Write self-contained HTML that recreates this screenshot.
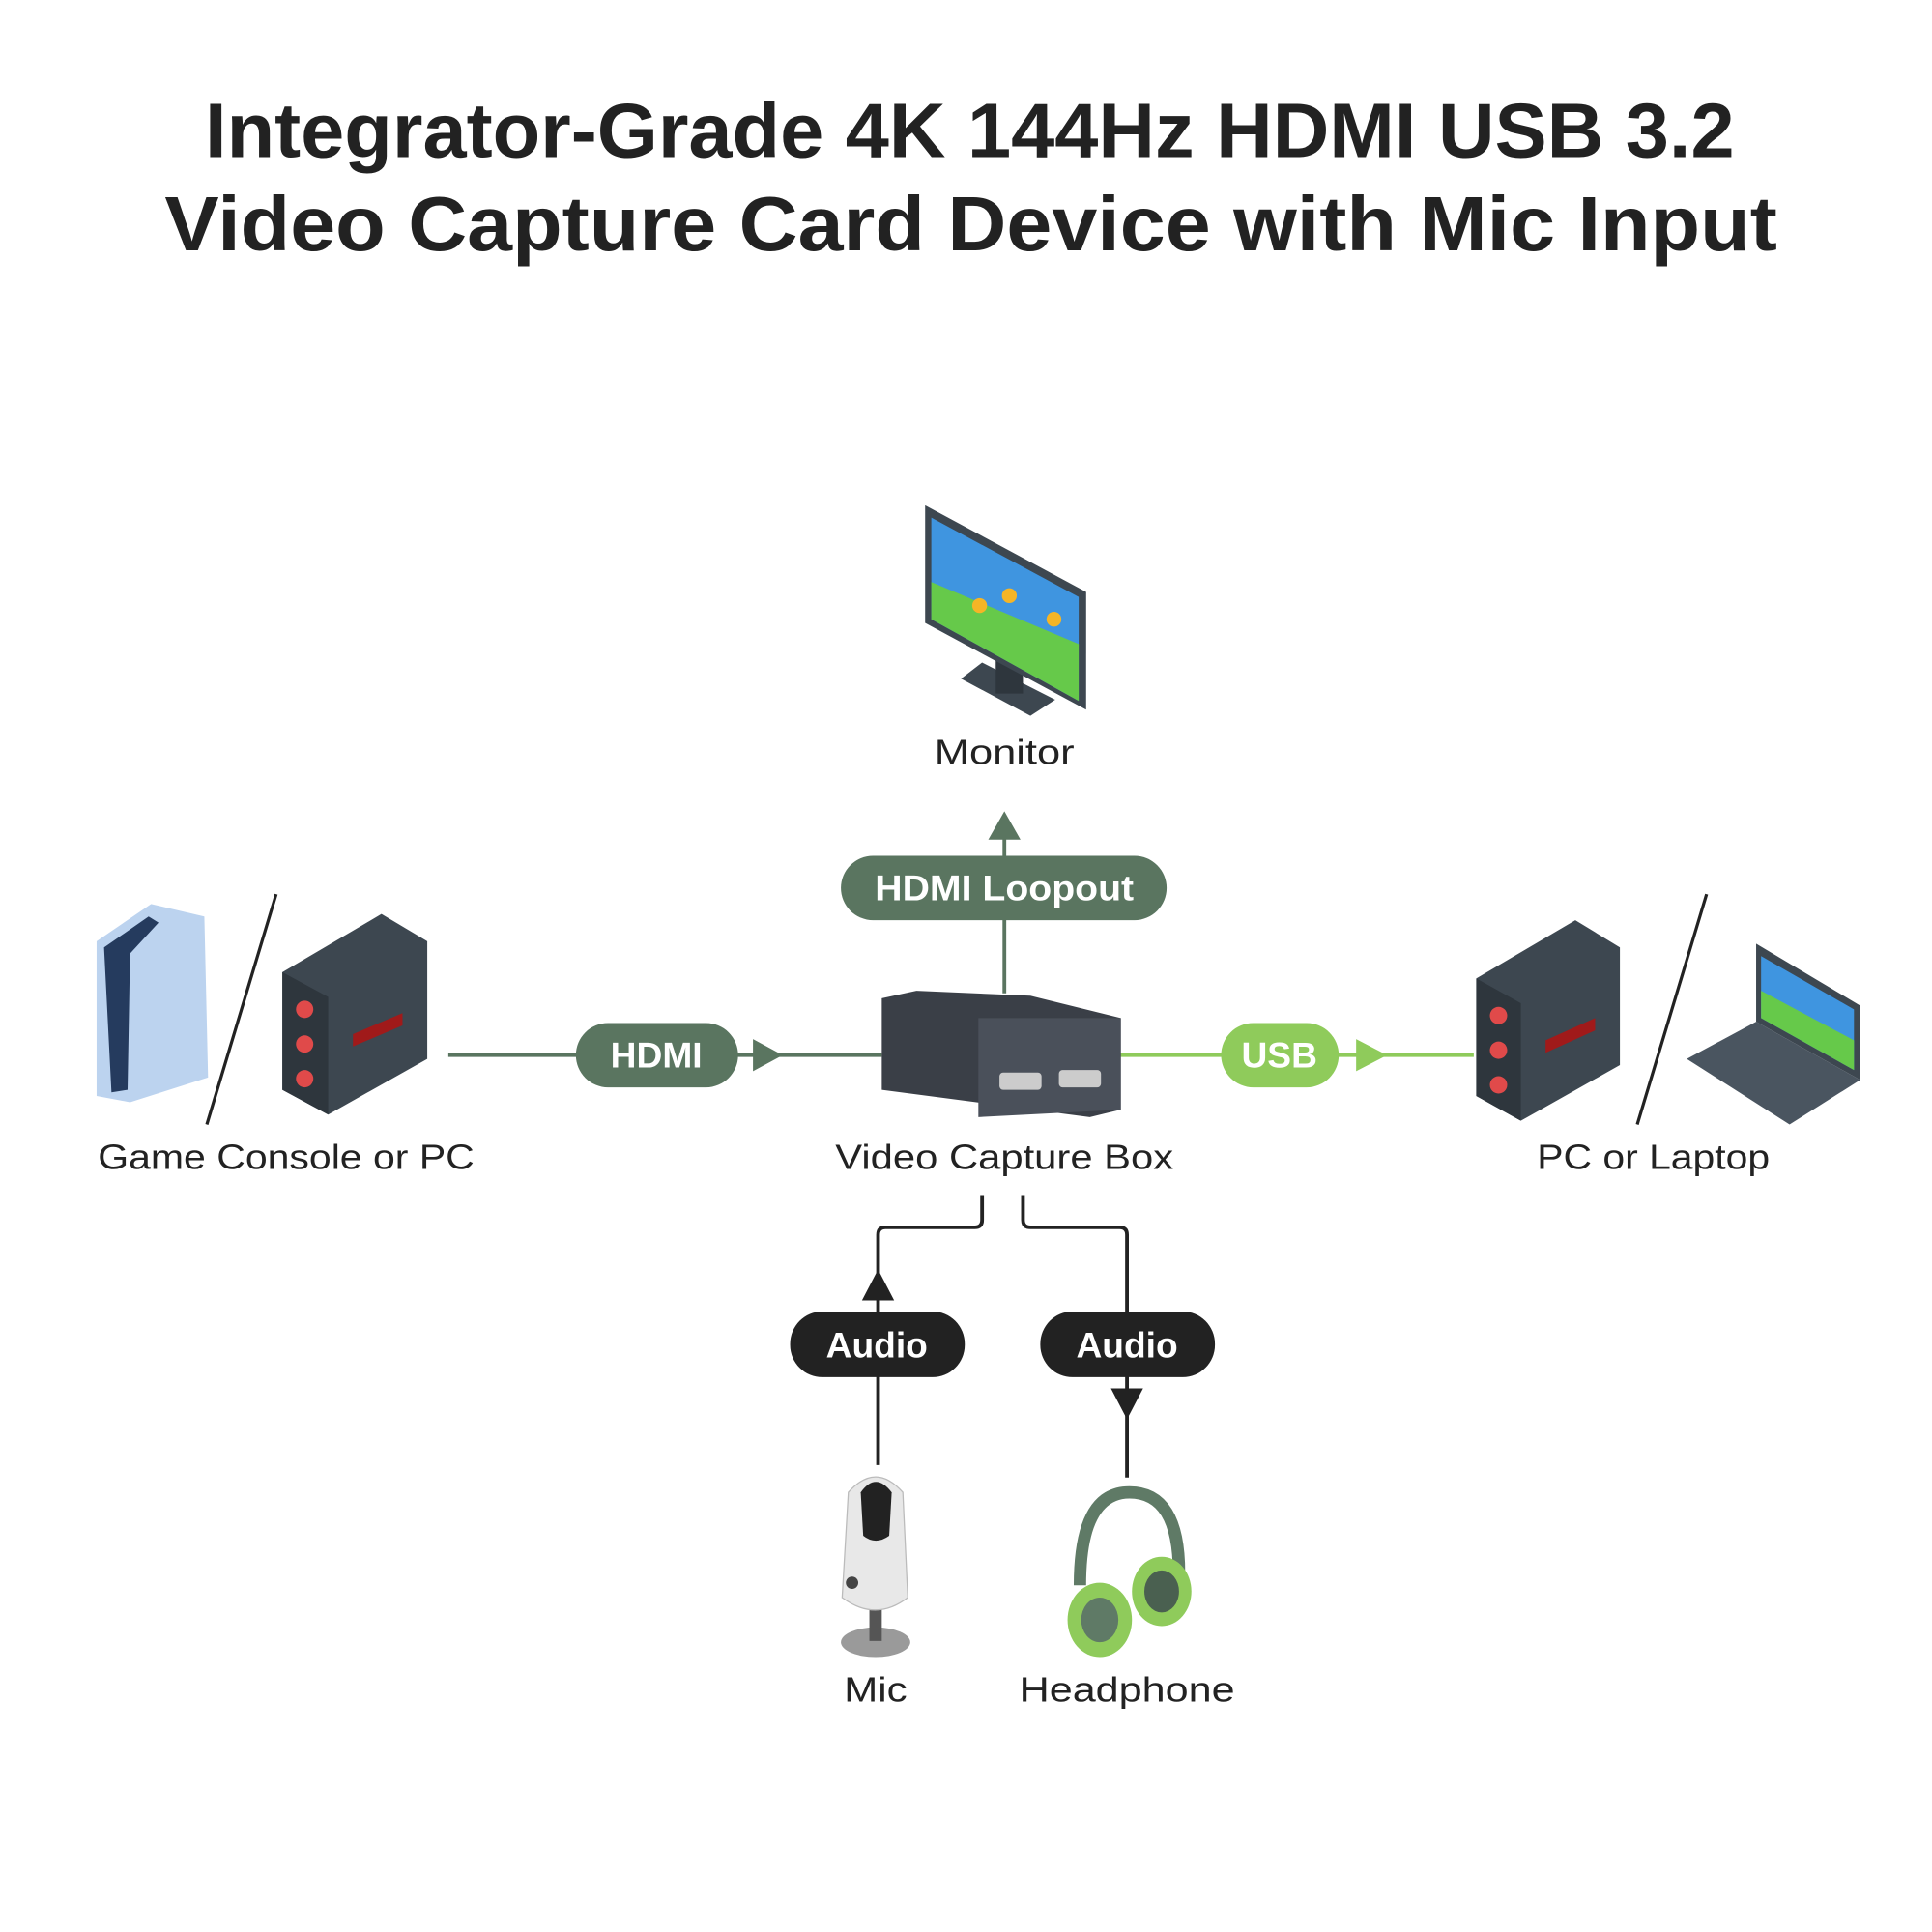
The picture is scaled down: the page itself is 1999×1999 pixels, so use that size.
<!DOCTYPE html>
<html><head><meta charset="utf-8"><style>
html,body{margin:0;padding:0;background:#fff}
svg{display:block}
text{font-family:"Liberation Sans",sans-serif}
</style></head><body>
<svg width="1999" height="1999" viewBox="0 0 1560 1560" xmlns="http://www.w3.org/2000/svg">
<rect width="1560" height="1560" fill="#fff"/>
<g font-weight="bold" fill="#222" font-size="62" text-anchor="middle">
<text x="783" y="127" textLength="1235" lengthAdjust="spacingAndGlyphs">Integrator-Grade 4K 144Hz HDMI USB 3.2</text>
<text x="784" y="202" textLength="1302" lengthAdjust="spacingAndGlyphs">Video Capture Card Device with Mic Input</text>
</g>

<!-- Monitor -->
<polygon points="793,535 776,548 832,578 852,565" fill="#3d4750"/>
<rect x="804" y="525" width="22" height="35" fill="#2e363d"/>
<polygon points="747,408 877,478 877,573 747,503" fill="#3d4750"/>
<polygon points="752,418 871,482 871,566 752,500" fill="#3f95e0"/>
<polygon points="752,470 871,520 871,566 752,500" fill="#66c94a"/>
<circle cx="791" cy="489" r="6" fill="#f5b526"/><circle cx="815" cy="481" r="6" fill="#f5b526"/><circle cx="851" cy="500" r="6" fill="#f5b526"/>

<!-- Loopout -->
<line x1="811" y1="675" x2="811" y2="802" stroke="#5a7560" stroke-width="3"/>
<polygon points="811,655 798,678 824,678" fill="#5a7560"/>
<rect x="679" y="691" width="263" height="52" rx="26" fill="#5a7560"/>
<text x="811" y="727" font-size="29" font-weight="bold" fill="#fff" text-anchor="middle" textLength="209" lengthAdjust="spacingAndGlyphs">HDMI Loopout</text>

<!-- HDMI -->
<line x1="362" y1="852" x2="712" y2="852" stroke="#5a7560" stroke-width="3"/>
<rect x="465" y="826" width="131" height="52" rx="26" fill="#5a7560"/>
<text x="530" y="862" font-size="29" font-weight="bold" fill="#fff" text-anchor="middle">HDMI</text>
<polygon points="608,839 632,852 608,865" fill="#5a7560"/>

<!-- USB -->
<line x1="903" y1="852" x2="1190" y2="852" stroke="#8fcb5b" stroke-width="3"/>
<rect x="986" y="826" width="95" height="52" rx="26" fill="#8fcb5b"/>
<text x="1033" y="862" font-size="29" font-weight="bold" fill="#fff" text-anchor="middle">USB</text>
<polygon points="1095,839 1120,852 1095,865" fill="#8fcb5b"/>

<!-- Capture box -->
<polygon points="712,806 740,800 832,804 905,822 905,896 880,902 712,880" fill="#3a3f47"/>
<polygon points="790,822 905,822 905,896 790,902" fill="#4a505a"/>
<rect x="807" y="866" width="34" height="14" rx="3" fill="#ccc"/>
<rect x="855" y="864" width="34" height="14" rx="3" fill="#ccc"/>

<!-- Left devices -->
<polygon points="78,760 122,730 165,740 168,870 105,890 78,885" fill="#bcd3ef"/>
<polygon points="84,765 120,740 128,745 105,770 103,880 90,882" fill="#253b5e"/>
<polygon points="228,785 308,738 345,760 345,855 265,900 228,880" fill="#3d4750"/>
<polygon points="228,785 265,805 265,900 228,880" fill="#2e363d"/>
<circle cx="246" cy="815" r="7" fill="#e04a4a"/><circle cx="246" cy="843" r="7" fill="#e04a4a"/><circle cx="246" cy="871" r="7" fill="#e04a4a"/>
<polygon points="285,835 325,818 325,828 285,845" fill="#a01a1a"/>
<line x1="223" y1="722" x2="167" y2="908" stroke="#222" stroke-width="2.5"/>

<!-- Right devices -->
<polygon points="1192,790 1272,743 1308,765 1308,860 1228,905 1192,885" fill="#3d4750"/>
<polygon points="1192,790 1228,810 1228,905 1192,885" fill="#2e363d"/>
<circle cx="1210" cy="820" r="7" fill="#e04a4a"/><circle cx="1210" cy="848" r="7" fill="#e04a4a"/><circle cx="1210" cy="876" r="7" fill="#e04a4a"/>
<polygon points="1248,840 1288,822 1288,832 1248,850" fill="#a01a1a"/>
<line x1="1378" y1="722" x2="1322" y2="908" stroke="#222" stroke-width="2.5"/>
<polygon points="1418,762 1502,812 1502,872 1418,825" fill="#3d4750"/>
<polygon points="1422,772 1497,815 1497,864 1422,822" fill="#3f95e0"/>
<polygon points="1422,800 1497,840 1497,864 1422,822" fill="#66c94a"/>
<polygon points="1362,855 1418,825 1502,872 1445,908" fill="#4a5560"/>

<!-- Labels -->
<g font-size="28" fill="#222" text-anchor="middle" lengthAdjust="spacingAndGlyphs">
<text x="811" y="617" textLength="113" lengthAdjust="spacingAndGlyphs">Monitor</text>
<text x="231" y="944" textLength="304" lengthAdjust="spacingAndGlyphs">Game Console or PC</text>
<text x="811" y="944" textLength="273" lengthAdjust="spacingAndGlyphs">Video Capture Box</text>
<text x="1335" y="944" textLength="188" lengthAdjust="spacingAndGlyphs">PC or Laptop</text>
<text x="707" y="1374" textLength="51" lengthAdjust="spacingAndGlyphs">Mic</text>
<text x="910" y="1374" textLength="174" lengthAdjust="spacingAndGlyphs">Headphone</text>
</g>

<!-- Audio connectors -->
<path d="M793,965 V985 Q793,991 787,991 H715 Q709,991 709,997 V1183" fill="none" stroke="#222" stroke-width="3"/>
<polygon points="709,1025 696,1050 722,1050" fill="#222"/>
<rect x="638" y="1059" width="141" height="53" rx="26" fill="#222"/>
<text x="708" y="1096" font-size="29" font-weight="bold" fill="#fff" text-anchor="middle">Audio</text>
<path d="M826,965 V985 Q826,991 832,991 H904 Q910,991 910,997 V1193" fill="none" stroke="#222" stroke-width="3"/>
<rect x="840" y="1059" width="141" height="53" rx="26" fill="#222"/>
<text x="910" y="1096" font-size="29" font-weight="bold" fill="#fff" text-anchor="middle">Audio</text>
<polygon points="897,1121 923,1121 910,1146" fill="#222"/>

<!-- Mic -->
<ellipse cx="707" cy="1326" rx="28" ry="12" fill="#9a9a9a"/>
<rect x="702" y="1295" width="10" height="30" fill="#555"/>
<path d="M685,1205 Q707,1180 729,1205 L733,1290 Q707,1310 680,1290 Z" fill="#e8e8e8" stroke="#bbb"/>
<path d="M695,1205 Q707,1188 720,1205 L718,1240 Q707,1248 697,1240 Z" fill="#222"/>
<circle cx="688" cy="1278" r="5" fill="#444"/>

<!-- Headphone -->
<path d="M872,1280 Q872,1205 912,1205 Q952,1205 952,1270" fill="none" stroke="#5f7a66" stroke-width="10"/>
<ellipse cx="888" cy="1308" rx="26" ry="30" fill="#8fcb5b"/>
<ellipse cx="888" cy="1308" rx="15" ry="18" fill="#5f7a66"/>
<ellipse cx="938" cy="1285" rx="24" ry="28" fill="#8fcb5b"/>
<ellipse cx="938" cy="1285" rx="14" ry="17" fill="#4a6050"/>
</svg>
</body></html>
